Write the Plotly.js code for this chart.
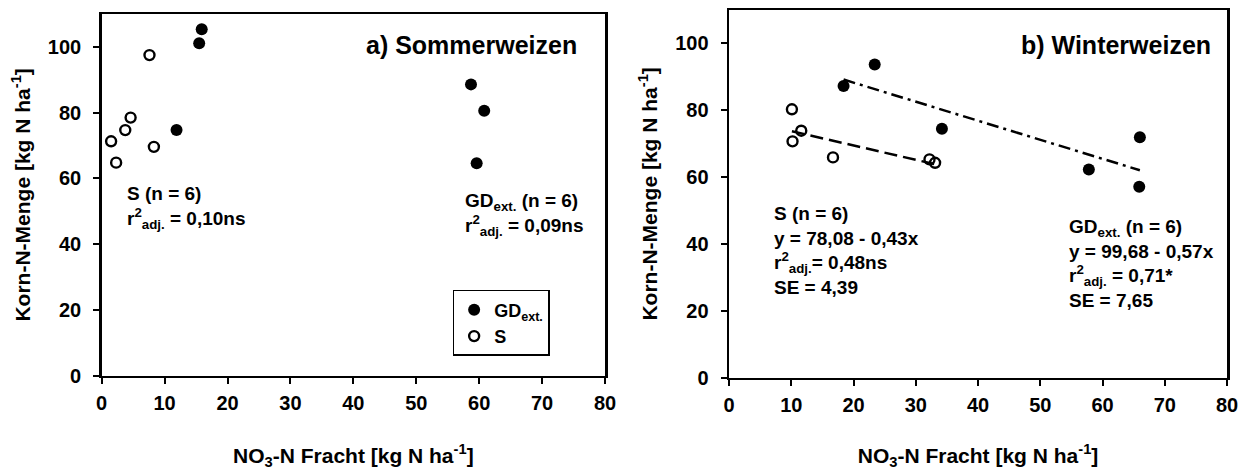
<!DOCTYPE html>
<html><head><meta charset="utf-8">
<script src="https://cdn.plot.ly/plotly-3.0.1.min.js"></script>
<style>html,body{margin:0;padding:0;background:#fff}#chart{width:1249px;height:470px}</style>
</head><body><div id="chart"></div>
<script>
// ---- data: a) Sommerweizen ----
const somGD_x = [11.9, 15.5, 15.9, 58.7, 60.8, 59.6];
const somGD_y = [74.7, 101.1, 105.4, 88.6, 80.6, 64.6];
const somS_x = [1.5, 2.3, 3.75, 4.6, 7.6, 8.3];
const somS_y = [71.3, 64.8, 74.7, 78.5, 97.5, 69.6];
// ---- data: b) Winterweizen ----
const winGD_x = [18.4, 23.4, 34.2, 57.8, 66.0, 65.9];
const winGD_y = [87.3, 93.7, 74.5, 62.3, 71.9, 57.1];
const winS_x = [10.1, 10.2, 11.6, 16.7, 32.2, 33.1];
const winS_y = [80.3, 70.7, 73.9, 65.9, 65.3, 64.3];
// regression (intercept, slope) and fitted x range
const regS_coef = [78.08, -0.43];
const regS_x = [10.1, 33.1];
const regGD_coef = [99.68, -0.57];
const regGD_x = [18.4, 66.0];
// ticks
const xTicks = [0, 10, 20, 30, 40, 50, 60, 70, 80];
const yTicks = [0, 20, 40, 60, 80, 100];
const legendNames = ['GD<sub>ext.</sub>', 'S'];

const FONT = 'Arial, "Liberation Sans", sans-serif';
const fit = (c, xs) => xs.map(x => c[0] + c[1] * x);
const bold = v => '<b>' + v + '</b>';

const filled = {symbol: 'circle', size: 12, color: '#000'};
const open = {symbol: 'circle-open', size: 10, color: '#000', line: {width: 2.4, color: '#000'}};

const traces = [
  {x: somGD_x, y: somGD_y, xaxis: 'x', yaxis: 'y', mode: 'markers', marker: filled, name: legendNames[0], showlegend: true},
  {x: somS_x, y: somS_y, xaxis: 'x', yaxis: 'y', mode: 'markers', marker: open, name: legendNames[1], showlegend: true},
  {x: winGD_x, y: winGD_y, xaxis: 'x2', yaxis: 'y2', mode: 'markers', marker: filled, showlegend: false},
  {x: winS_x, y: winS_y, xaxis: 'x2', yaxis: 'y2', mode: 'markers', marker: open, showlegend: false},
  {x: regS_x, y: fit(regS_coef, regS_x), xaxis: 'x2', yaxis: 'y2', mode: 'lines',
   line: {color: '#000', width: 2.5, dash: '13px,6px'}, showlegend: false},
  {x: regGD_x, y: fit(regGD_coef, regGD_x), xaxis: 'x2', yaxis: 'y2', mode: 'lines',
   line: {color: '#000', width: 2.5, dash: '12px,5px,3px,5px'}, showlegend: false}
];

function xa(domain, anchor) {
  return {domain: domain, anchor: anchor, range: [0, 80], tickmode: 'array', tickvals: xTicks, ticktext: xTicks.map(bold),
    showline: true, mirror: true, linewidth: 2.5, linecolor: '#000', ticks: 'outside', ticklen: 6, tickwidth: 2,
    tickcolor: '#000', showgrid: false, zeroline: false, ticklabelstandoff: 2, automargin: false,
    tickfont: {family: FONT, size: 20, color: '#000'},
    title: {text: '<b>NO<sub>3</sub>-N Fracht [kg N ha<sup>-1</sup>]</b>', standoff: 36,
      font: {family: FONT, size: 21, color: '#000'}}};
}
function ya(domain, anchor) {
  return {domain: domain, anchor: anchor, range: [0, 110], tickmode: 'array', tickvals: yTicks, ticktext: yTicks.map(bold),
    showline: true, mirror: true, linewidth: 2.5, linecolor: '#000', ticks: 'outside', ticklen: 6, tickwidth: 2,
    tickcolor: '#000', showgrid: false, zeroline: false, ticklabelstandoff: 8, automargin: false,
    tickfont: {family: FONT, size: 20, color: '#000'},
    title: {text: '<b>Korn-N-Menge [kg N ha<sup>-1</sup>]</b>', standoff: 12,
      font: {family: FONT, size: 21, color: '#000'}}};
}

function ann(xref, yref, x, y, text, size, xanchor, yanchor) {
  return {xref: xref, yref: yref, x: x, y: y, text: text, showarrow: false, xanchor: xanchor || 'left',
    yanchor: yanchor || 'top', align: 'left', font: {family: FONT, size: size || 19, weight: 'bold', color: '#000'}};
}

const annotations = [
  ann('x', 'y', 75.9, 100.6, 'a) Sommerweizen', 25, 'right', 'middle'),
  ann('x', 'y', 3.7, 59.2, 'S (n = 6)<br>r<sup>2</sup><sub>adj.</sub> = 0,10ns'),
  ann('x', 'y', 57.4, 57.2, 'GD<sub>ext.</sub> (n = 6)<br>r<sup>2</sup><sub>adj.</sub> = 0,09ns'),
  ann('x2', 'y2', 77.75, 99.5, 'b) Winterweizen', 25, 'right', 'middle'),
  ann('x2', 'y2', 6.86, 52.9, 'S (n = 6)<br>y = 78,08 - 0,43x<br>r<sup>2</sup><sub>adj.</sub>= 0,48ns<br>SE = 4,39'),
  ann('x2', 'y2', 54.3, 48.9, 'GD<sub>ext.</sub> (n = 6)<br>y = 99,68 - 0,57x<br>r<sup>2</sup><sub>adj.</sub> = 0,71*<br>SE = 7,65')
];

const layout = {
  width: 1249, height: 470, margin: {l: 0, r: 0, t: 0, b: 0},
  paper_bgcolor: '#fff', plot_bgcolor: '#fff',
  xaxis: xa([0.0814, 0.4844], 'y'),
  yaxis: ya([0.2006, 0.9702], 'x'),
  xaxis2: xa([0.5837, 0.9824], 'y2'),
  yaxis2: ya([0.1964, 0.9787], 'x2'),
  showlegend: true,
  legend: {x: 0.3624, y: 0.383, xanchor: 'left', yanchor: 'top', bgcolor: '#fff', bordercolor: '#000', borderwidth: 1.5,
    font: {family: FONT, size: 18, weight: 'bold', color: '#000'}, tracegroupgap: 0, itemwidth: 30},
  annotations: annotations
};

Plotly.newPlot('chart', traces, layout, {displayModeBar: false, staticPlot: true});
</script></body></html>
